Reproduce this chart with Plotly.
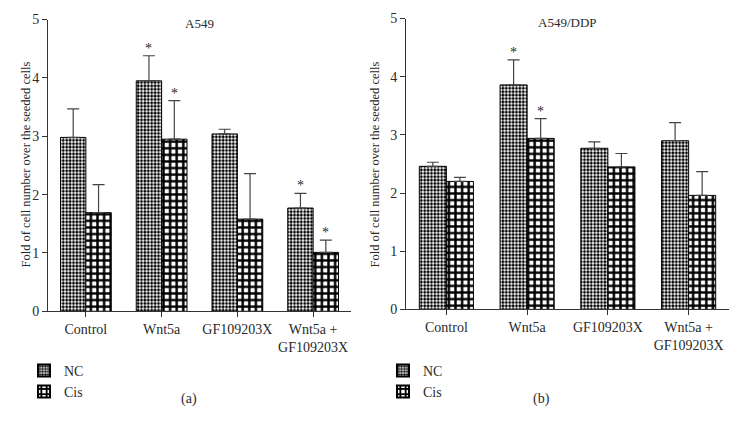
import plotly.graph_objects as go

categories = ["Control", "Wnt5a", "GF109203X", "Wnt5a +<br>GF109203X"]
series_names = ["NC", "Cis"]

# Panel (a): A549
a_nc = [2.98, 3.95, 3.04, 1.77]
a_nc_err = [0.49, 0.43, 0.08, 0.25]
a_cis = [1.69, 2.95, 1.58, 1.01]
a_cis_err = [0.48, 0.66, 0.78, 0.21]
a_nc_star = [False, True, False, True]
a_cis_star = [False, True, False, True]

# Panel (b): A549/DDP
b_nc = [2.46, 3.86, 2.77, 2.90]
b_nc_err = [0.07, 0.43, 0.11, 0.31]
b_cis = [2.20, 2.94, 2.45, 1.96]
b_cis_err = [0.07, 0.34, 0.23, 0.41]
b_nc_star = [False, True, False, False]
b_cis_star = [False, True, False, False]

y_ticks = [0, 1, 2, 3, 4, 5]
y_title = "Fold of cell number over the seeded cells"
panel_titles = ["A549", "A549/DDP"]
panel_labels = ["(a)", "(b)"]

FONT = "Liberation Serif"
TXT = "#2a2a2a"
AX = "#333333"
BARW = 0.335

xs = list(range(len(categories)))

pat_nc = dict(shape=".", size=3.4, solidity=0.55, fgcolor="black", bgcolor="white", fillmode="replace")
pat_cis = dict(shape="+", size=6.6, solidity=0.6, fgcolor="black", bgcolor="white", fillmode="replace")

fig = go.Figure()

def add_panel(nc, nce, cis, cise, xa, ya, legend):
    fig.add_trace(go.Bar(
        x=xs, y=nc, name=series_names[0], width=BARW, offset=-BARW,
        marker=dict(color="white", pattern=pat_nc, line=dict(color="black", width=1)),
        error_y=dict(type="data", array=nce, arrayminus=[0]*len(nce), symmetric=False,
                     color="#444444", thickness=1.2, width=6),
        xaxis=xa, yaxis=ya, legend=legend))
    fig.add_trace(go.Bar(
        x=xs, y=cis, name=series_names[1], width=BARW, offset=0,
        marker=dict(color="white", pattern=pat_cis, line=dict(color="black", width=1)),
        error_y=dict(type="data", array=cise, arrayminus=[0]*len(cise), symmetric=False,
                     color="#444444", thickness=1.2, width=6),
        xaxis=xa, yaxis=ya, legend=legend))

add_panel(a_nc, a_nc_err, a_cis, a_cis_err, "x", "y", "legend")
add_panel(b_nc, b_nc_err, b_cis, b_cis_err, "x2", "y2", "legend2")

annotations = []
def stars(vals, errs, flags, off, xref, yref):
    for i, (v, e, f) in enumerate(zip(vals, errs, flags)):
        if f:
            annotations.append(dict(x=i + off, y=v + e, xref=xref, yref=yref, text="*",
                                    showarrow=False, yanchor="bottom", yshift=-2,
                                    font=dict(family=FONT, size=14, color=TXT)))

stars(a_nc, a_nc_err, a_nc_star, -BARW / 2, "x", "y")
stars(a_cis, a_cis_err, a_cis_star, BARW / 2, "x", "y")
stars(b_nc, b_nc_err, b_nc_star, -BARW / 2, "x2", "y2")
stars(b_cis, b_cis_err, b_cis_star, BARW / 2, "x2", "y2")

# panel titles
annotations.append(dict(x=0.5, y=1, xref="x domain", yref="y domain", text=panel_titles[0],
                        showarrow=False, yanchor="middle", yshift=-4, font=dict(family=FONT, size=13, color=TXT)))
annotations.append(dict(x=0.5, y=1, xref="x2 domain", yref="y2 domain", text=panel_titles[1],
                        showarrow=False, yanchor="middle", yshift=-4, font=dict(family=FONT, size=13, color=TXT)))
# y titles
annotations.append(dict(x=17 / 738, y=1 - 163 / 442, xref="paper", yref="paper", text=y_title, textangle=-90,
                        showarrow=False, font=dict(family=FONT, size=12.5, color=TXT)))
annotations.append(dict(x=375 / 738, y=1 - 163 / 442, xref="paper", yref="paper", text=y_title, textangle=-90,
                        showarrow=False, font=dict(family=FONT, size=12.5, color=TXT)))
# panel labels
annotations.append(dict(x=179 / 738, y=1 - 416 / 442, xref="paper", yref="paper", text=panel_labels[0],
                        showarrow=False, font=dict(family=FONT, size=14, color=TXT)))
annotations.append(dict(x=552 / 738, y=1 - 416 / 442, xref="paper", yref="paper", text=panel_labels[1],
                        showarrow=False, font=dict(family=FONT, size=14, color=TXT)))

xaxis_common = dict(range=[-0.5, 3.5], tickvals=xs, ticktext=categories, showline=True, linecolor=AX,
                    linewidth=1, ticks="outside", ticklen=5, tickcolor=AX, showgrid=False, zeroline=False,
                    tickfont=dict(family=FONT, size=14, color=TXT), fixedrange=True)
yaxis_common = dict(range=[0, 5], tickvals=y_ticks, showline=True, linecolor=AX, linewidth=1,
                    ticks="outside", ticklen=5, tickcolor=AX, showgrid=False, zeroline=False,
                    tickfont=dict(family=FONT, size=14, color=TXT), fixedrange=True)

legend_common = dict(font=dict(family=FONT, size=14, color=TXT), bgcolor="rgba(0,0,0,0)",
                     tracegroupgap=0, itemsizing="constant", xanchor="left", yanchor="top",
                     orientation="v")

fig.update_layout(
    width=738, height=442, margin=dict(l=0, r=0, t=0, b=0),
    paper_bgcolor="white", plot_bgcolor="white",
    font=dict(family=FONT, size=13, color=TXT),
    barmode="overlay",
    xaxis=dict(domain=[48 / 738, 351 / 738], anchor="y", **xaxis_common),
    yaxis=dict(domain=[1 - 315 / 442, 1 - 13 / 442], anchor="x", **yaxis_common),
    xaxis2=dict(domain=[406 / 738, 729 / 738], anchor="y2", **xaxis_common),
    yaxis2=dict(domain=[1 - 313 / 442, 1 - 12 / 442], anchor="x2", **yaxis_common),
    legend=dict(x=24 / 738, y=1 - 360 / 442, **legend_common),
    legend2=dict(x=383 / 738, y=1 - 360 / 442, **legend_common),
    annotations=annotations,
    showlegend=True,
)

fig.write_html("out.html", config={"displayModeBar": False},
               post_script="document.body.style.margin='0px';")
